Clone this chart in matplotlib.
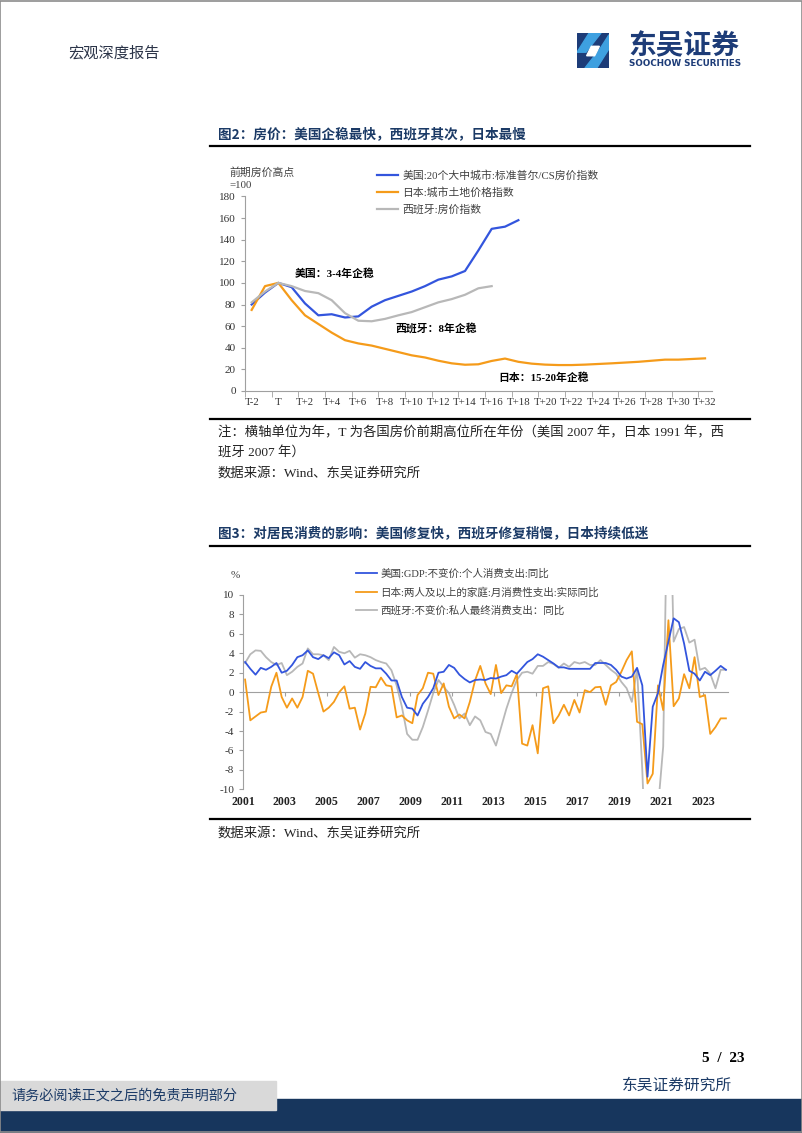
import numpy as np
import matplotlib.pyplot as plt
from matplotlib.patches import Rectangle, Polygon
from matplotlib.ticker import MultipleLocator

plt.rcParams['axes.unicode_minus'] = False

W, H = 802, 1133

# 图2：房价（前期高点=100），横轴为年
periods = ['T-2', 'T-1', 'T'] + ['T+%d' % k for k in range(1, 33)]
us_hp = [80, 91, 100, 96, 81, 70, 71, 68, 69, 78, 84, 88, 92, 97, 103, 106, 111, 130, 150, 152, 158]
jp_hp = [75, 97, 100, 84, 70, 62, 54, 47, 44, 42, 39, 36, 33, 31, 28, 25.6, 24.3, 24.7, 27.8, 30,
         27, 25.3, 24.4, 24, 24, 24.4, 25, 25.6, 26.3, 27, 28, 29, 29, 29.6, 30.2]
es_hp = [82, 92, 100, 97, 92.5, 90.5, 84, 72, 65, 64.5, 66.7, 70, 73, 77.5, 82, 85, 89, 95, 97]

# 图3：居民消费同比（%），季度 2001Q1-2024Q1
us_pce = [3.1, 2.4, 1.8, 2.5, 2.3, 2.6, 3.0, 2.0, 2.2, 2.8, 3.6, 3.8, 4.3, 3.6, 3.4, 3.8,
          3.5, 4.1, 3.8, 2.85, 3.2, 2.6, 2.4, 3.1, 2.7, 2.45, 2.45, 1.9, 1.2, 1.2, -0.5, -1.6,
          -1.7, -2.4, -1.2, -0.5, 0.4, 2.0, 2.1, 2.8, 2.5, 1.8, 1.35, 1.0, 1.25, 1.3, 1.25, 1.45,
          1.4, 1.6, 1.75, 2.2, 1.9, 2.5, 3.1, 3.4, 3.9, 3.65, 3.3, 2.95, 2.55, 2.55, 2.4, 2.4,
          2.4, 2.4, 2.4, 3.0, 3.0, 3.0, 2.8, 2.3, 1.6, 1.4, 1.6, 2.5, 0.7, -8.7, -1.5, -0.1,
          2.8, 5.2, 7.6, 7.2, 5.0, 2.2, 1.9, 1.2, 2.1, 1.75, 2.2, 2.7, 2.3]
jp_spend = [1.3, -2.9, -2.5, -2.1, -2.0, 0.55, 2.0, -0.5, -1.6, -0.65, -1.6, -0.5, 2.2, 1.9, -0.1, -2.0,
            -1.6, -1.0, 0.0, 0.6, -1.7, -1.6, -3.85, -2.2, 0.55, 0.5, 1.5, 0.7, 0.6, -2.6, -2.4, -2.9,
            -3.2, -0.3, 0.4, 2.0, 1.9, -0.3, 0.9, -1.5, -2.7, -2.3, -2.7, -1.0, 1.2, 2.7, 0.9, -0.2,
            2.8, -0.1, 0.7, 0.6, 1.85, -5.3, -5.5, -3.4, -6.3, 0.4, 0.6, -3.2, -2.4, -1.3, -2.4, -0.8,
            -2.1, 0.2, 0.0, 0.5, 0.55, -1.3, 0.7, 1.05, 2.1, 3.3, 4.2, -3.05, -3.3, -9.4, -8.4, 0.7,
            -1.85, 7.4, -1.45, -0.65, 1.85, 0.4, 3.6, -0.5, -0.3, -4.3, -3.6, -2.7, -2.7]
es_cons = [3.0, 3.9, 4.3, 4.25, 3.6, 3.1, 2.8, 3.0, 1.75, 2.1, 2.6, 2.95, 4.5, 3.9, 3.9, 3.8,
           3.3, 4.65, 4.15, 4.0, 4.25, 3.55, 3.9, 3.8, 3.6, 3.3, 3.1, 2.95, 2.25, 0.7, -1.5, -4.3,
           -4.9, -4.9, -3.6, -1.9, -0.1, 1.25, 0.55, -0.1, -1.3, -2.7, -2.2, -3.4, -2.5, -2.9, -4.1, -4.3,
           -5.5, -3.6, -1.7, -0.1, 1.25, 2.0, 2.1, 1.9, 2.7, 2.7, 3.1, 2.9, 2.5, 2.95, 2.6, 3.1,
           2.95, 3.1, 2.8, 2.8, 3.3, 2.8, 2.3, 1.9, 1.05, 0.4, -1.0, 2.4, -8.0, -22.0, -12.0, -12.0,
           -5.6, 28.0, 5.2, 6.5, 6.7, 5.1, 5.4, 2.3, 2.5, 1.9, 0.4, 2.3, 2.3]
year_ticks = list(range(2001, 2024, 2))

BLUE = '#3355dd'
ORANGE = '#f59b1a'
GRAY = '#b8b8b8'
NAVY = '#1b3a66'
AXIS = '#a0a0a0'
CJK = ['Liberation Serif', 'Noto Sans CJK SC']
SANS = ['Noto Sans CJK SC', 'DejaVu Sans']

fig = plt.figure(figsize=(W / 100, H / 100), dpi=100)


def add_ax(left, top, right, bottom):
    return fig.add_axes([left / W, 1 - bottom / H, (right - left) / W, (bottom - top) / H])


def txt(x, y, s, **kw):
    kw.setdefault('va', 'center')
    fig.text(x / W, 1 - y / H, s, **kw)


def hline(x0, x1, y, lw=1.6, color='black'):
    fig.add_artist(plt.Line2D([x0 / W, x1 / W], [1 - y / H, 1 - y / H], color=color, lw=lw))


# 页眉
txt(68, 53, '宏观深度报告', fontsize=11, family=SANS, color='#2b3448')
logo = add_ax(577, 33, 609, 68)
logo.set_xlim(0, 1)
logo.set_ylim(0, 1)
logo.axis('off')
logo.add_patch(Rectangle((0, 0), 1, 1, color='#1d3c78'))
logo.add_patch(Polygon([[0.25, 0.0], [0.62, 0.0], [1.0, 0.55], [1.0, 0.95], [0.72, 0.55]], color='#3ea0e0'))
logo.add_patch(Polygon([[0.0, 0.45], [0.28, 0.45], [0.75, 1.0], [0.38, 1.0], [0.0, 0.45]], color='#3ea0e0'))
logo.add_patch(Polygon([[0.3, 0.35], [0.55, 0.35], [0.7, 0.62], [0.45, 0.62]], color='white'))
txt(628, 46, '东吴证券', fontsize=20, family=SANS, color='#1d3c78', weight='bold')
txt(629, 64, 'SOOCHOW SECURITIES', fontsize=6.3, family='DejaVu Sans', color='#1d3c78', weight='bold')

# ---------------- 图2 ----------------
txt(218, 134, '图2：房价：美国企稳最快，西班牙其次，日本最慢', fontsize=9.8, family=SANS,
    weight='bold', color=NAVY)
hline(210, 750, 146)

ax1 = add_ax(245, 196.4, 711.7, 391)
x1 = np.arange(len(periods))
ax1.plot(x1[:len(us_hp)], us_hp, color=BLUE, lw=1.6, label='美国:20个大中城市:标准普尔/CS房价指数')
ax1.plot(x1[:len(jp_hp)], jp_hp, color=ORANGE, lw=1.6, label='日本:城市土地价格指数')
ax1.plot(x1[:len(es_hp)], es_hp, color=GRAY, lw=1.6, label='西班牙:房价指数')
ax1.set_xlim(-0.5, len(periods) - 0.5)
ax1.set_ylim(0, 180)
ax1.set_xticks(x1[::2])
ax1.set_xticklabels(periods[::2])
ax1.set_xticks(np.arange(-0.5, len(periods) - 1, 2), minor=True)
ax1.tick_params(axis='x', which='major', length=0, pad=5, labelsize=7.8, labelcolor='#333333')
ax1.tick_params(axis='x', which='minor', length=4, color=AXIS, direction='out')
ax1.yaxis.set_major_locator(MultipleLocator(20))
ax1.tick_params(axis='y', length=3, color=AXIS, direction='out', labelsize=8, labelcolor='#333333')
for s in ['top', 'right']:
    ax1.spines[s].set_visible(False)
for s in ['left', 'bottom']:
    ax1.spines[s].set_color(AXIS)
for lab in ax1.get_xticklabels() + ax1.get_yticklabels():
    lab.set_family('Liberation Serif')
ax1.patch.set_alpha(0)
leg1 = ax1.legend(loc='upper left', bbox_to_anchor=(0.261, 1.187), frameon=False, handlelength=2.0,
                  handletextpad=0.4, labelspacing=0.62, prop={'family': CJK, 'size': 7.8})
for t in leg1.get_texts():
    t.set_color('#404040')
txt(229, 173, '前期房价高点', fontsize=7.8, family=CJK, color='#404040')
txt(229, 186, '=100', fontsize=7.8, family=CJK, color='#404040')
ax1.annotate('美国：3-4年企稳', xy=(3.2, 108), fontsize=7.8, family=CJK, weight='bold', va='center')
ax1.annotate('西班牙：8年企稳', xy=(10.8, 58), fontsize=7.8, family=CJK, weight='bold', va='center')
ax1.annotate('日本：15-20年企稳', xy=(18.5, 12), fontsize=7.8, family=CJK, weight='bold', va='center')

hline(210, 750, 419)
txt(218, 433, '注：横轴单位为年，T 为各国房价前期高位所在年份（美国 2007 年，日本 1991 年，西',
    fontsize=9.6, family=CJK, color='#222222')
txt(218, 453, '班牙 2007 年）', fontsize=9.6, family=CJK, color='#222222')
txt(218, 473, '数据来源：Wind、东吴证券研究所', fontsize=9.6, family=CJK, color='#222222')

# ---------------- 图3 ----------------
txt(218, 533, '图3：对居民消费的影响：美国修复快，西班牙修复稍慢，日本持续低迷', fontsize=9.8,
    family=SANS, weight='bold', color=NAVY)
hline(210, 750, 546)

tq = 2001.1 + np.arange(len(us_pce)) / 4
ax3 = add_ax(243, 595, 728, 789.3)
ax3.plot(tq, us_pce, color=BLUE, lw=1.3, zorder=4, label='美国:GDP:不变价:个人消费支出:同比')
ax3.plot(tq, jp_spend, color=ORANGE, lw=1.3, zorder=3, label='日本:两人及以上的家庭:月消费性支出:实际同比')
ax3.plot(tq, es_cons, color=GRAY, lw=1.3, zorder=2, label='西班牙:不变价:私人最终消费支出：同比')
ax3.set_xlim(2001, 2024.2)
ax3.set_ylim(-10, 10)
ax3.spines['bottom'].set_position(('data', 0))
ax3.yaxis.set_major_locator(MultipleLocator(2))
ax3.set_xticks(year_ticks)
ax3.set_xticklabels([str(y) for y in year_ticks])
ax3.tick_params(axis='x', length=3, color=AXIS, direction='out', pad=72, labelsize=8.6,
                labelcolor='#222222')
ax3.tick_params(axis='y', length=3, color=AXIS, direction='out', labelsize=8, labelcolor='#333333')
for s in ['top', 'right']:
    ax3.spines[s].set_visible(False)
for s in ['left', 'bottom']:
    ax3.spines[s].set_color(AXIS)
for lab in ax3.get_xticklabels():
    lab.set_family('Liberation Serif')
    lab.set_weight('bold')
for lab in ax3.get_yticklabels():
    lab.set_family('Liberation Serif')
ax3.patch.set_alpha(0)
leg3 = ax3.legend(loc='upper left', bbox_to_anchor=(0.2135, 1.183), frameon=False, handlelength=2.0,
                  handletextpad=0.3, labelspacing=0.75, prop={'family': CJK, 'size': 7.6})
for t in leg3.get_texts():
    t.set_color('#404040')
txt(231, 576, '%', fontsize=8, family='Liberation Serif', color='#404040')

hline(210, 750, 819)
txt(218, 833, '数据来源：Wind、东吴证券研究所', fontsize=9.6, family=CJK, color='#222222')

# 页脚
txt(744, 1058, '5  /  23', fontsize=11, family='Liberation Serif', weight='bold', ha='right')
txt(732, 1085, '东吴证券研究所', fontsize=11.3, family=SANS, color=NAVY, ha='right')
fig.add_artist(Rectangle((0, 0), 1, (H - 1099) / H, transform=fig.transFigure, color='#17365d'))
fig.add_artist(Rectangle((0, (H - 1110) / H), 276 / W, 29 / H, transform=fig.transFigure,
                         color='#d9d9d9'))
txt(11, 1095, '请务必阅读正文之后的免责声明部分', fontsize=10.2, family=SANS, color=NAVY)
fig.add_artist(Rectangle((0.0005, 0.0005), 0.999, 0.999, transform=fig.transFigure, fill=False,
                         edgecolor='#8c8c8c', lw=1.2))

fig.savefig('out.png', dpi=100)
